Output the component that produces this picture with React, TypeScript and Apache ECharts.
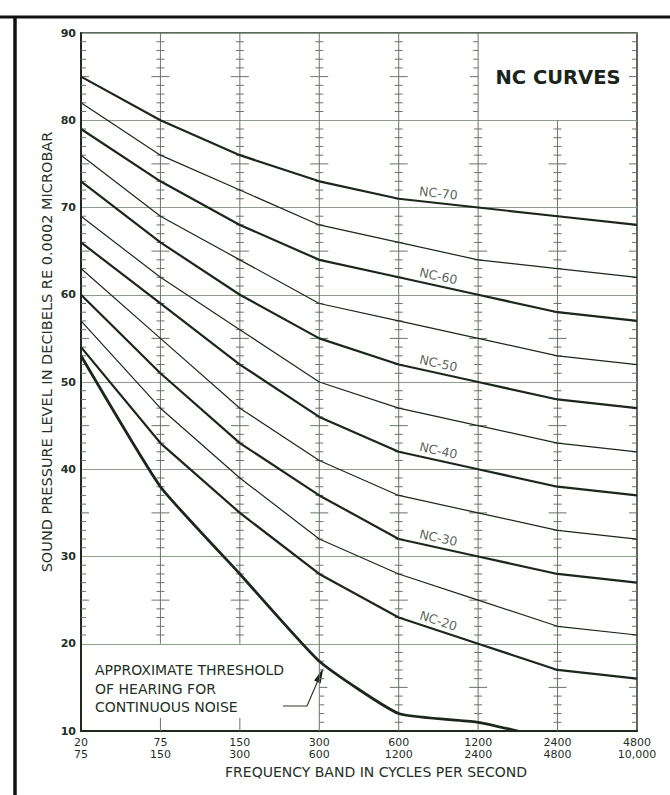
import React, { useEffect, useRef } from "react";
import * as echarts from "echarts";

// ---------- data ----------
const bandLabels = [
  "20\n75",
  "75\n150",
  "150\n300",
  "300\n600",
  "600\n1200",
  "1200\n2400",
  "2400\n4800",
  "4800\n10,000",
];

const nc70 = [85, 80, 76, 73, 71, 70, 69, 68];
const nc65 = [82, 76, 72, 68, 66, 64, 63, 62];
const nc60 = [79, 73, 68, 64, 62, 60, 58, 57];
const nc55 = [76, 69, 64, 59, 57, 55, 53, 52];
const nc50 = [73, 66, 60, 55, 52, 50, 48, 47];
const nc45 = [69, 62, 56, 50, 47, 45, 43, 42];
const nc40 = [66, 59, 52, 46, 42, 40, 38, 37];
const nc35 = [63, 55, 47, 41, 37, 35, 33, 32];
const nc30 = [60, 51, 43, 37, 32, 30, 28, 27];
const nc25 = [57, 47, 39, 32, 28, 25, 22, 21];
const nc20 = [54, 43, 35, 28, 23, 20, 17, 16];

// threshold of hearing: values per band, then the point where it meets 10 dB
const thresholdValues = [53, 38, 28, 18, 12, 11];
const thresholdEnd = [5.5, 10];

const curves = [
  { name: "NC-70", values: nc70 },
  { name: "NC-65", values: nc65 },
  { name: "NC-60", values: nc60 },
  { name: "NC-55", values: nc55 },
  { name: "NC-50", values: nc50 },
  { name: "NC-45", values: nc45 },
  { name: "NC-40", values: nc40 },
  { name: "NC-35", values: nc35 },
  { name: "NC-30", values: nc30 },
  { name: "NC-25", values: nc25 },
  { name: "NC-20", values: nc20 },
];

// ---------- styling ----------
const INK = "#1b271b";
const TEXT = "#243024";
const GRID_H = "#8e9c8c";
const GRID_V = "#667664";
const FONT = "'DejaVu Sans', 'Noto Sans', sans-serif";

const GRID = { left: 81, right: 33, top: 33, bottom: 64 };
const W = 670;
const H = 795;

const isBold = (name: string) => Number(name.split("-")[1]) % 10 === 0;

// decorative verticals with cross ticks
const columns = [
  { x: 0, lines: [] as number[][], ticks: [{ from: 21, to: 89, side: "right" }] },
  { x: 1, lines: [[20, 90], [10, 11.5]], ticks: [{ from: 21, to: 89, side: "both" }] },
  { x: 2, lines: [[20, 90], [10, 11.5]], ticks: [{ from: 21, to: 89, side: "both" }] },
  {
    x: 3,
    lines: [[10, 90]],
    ticks: [
      { from: 21, to: 89, side: "both" },
      { from: 11, to: 19, side: "right" },
    ],
  },
  { x: 4, lines: [[10, 90]], ticks: [{ from: 11, to: 89, side: "both" }] },
  {
    x: 5,
    lines: [[10, 90]],
    ticks: [
      { from: 11, to: 79, side: "both" },
      { from: 81, to: 89, side: "left" },
    ],
  },
  { x: 6, lines: [[10, 80]], ticks: [{ from: 11, to: 79, side: "both" }] },
  { x: 7, lines: [] as number[][], ticks: [{ from: 11, to: 89, side: "left" }] },
];

export default function App() {
  const ref = useRef<HTMLDivElement>(null);

  useEffect(() => {
    document.body.style.margin = "0";
    if (!ref.current) return;
    const chart = echarts.init(ref.current, undefined, { renderer: "svg" });

    const pxPerX = (W - GRID.left - GRID.right) / 7;
    const pxPerY = (H - GRID.top - GRID.bottom) / 80;

    const lineSeries: any[] = curves.map((c) => ({
      type: "line",
      name: c.name,
      data: c.values.map((v, i) => [i, v]),
      symbol: "none",
      silent: true,
      z: 3,
      lineStyle: { color: INK, width: isBold(c.name) ? 2.2 : 1.2 },
    }));

    lineSeries.push({
      type: "line",
      name: "threshold",
      data: [...thresholdValues.map((v, i) => [i, v]), thresholdEnd],
      symbol: "none",
      silent: true,
      smooth: 0.15,
      z: 4,
      lineStyle: { color: INK, width: 2.8 },
    });

    const labelData = curves
      .filter((c) => isBold(c.name))
      .map((c) => {
        const a = c.values[4];
        const b = c.values[5];
        const ang = (Math.atan(((a - b) * pxPerY) / pxPerX) * 180) / Math.PI;
        return {
          value: [4.5, (a + b) / 2 + 1.15],
          label: {
            show: true,
            formatter: c.name,
            position: "inside",
            rotate: -ang,
            fontSize: 12.5,
            fontFamily: FONT,
            color: "#2f3c2f",
          },
        };
      });

    const tickSeries = {
      type: "custom",
      silent: true,
      clip: false,
      z: 1,
      data: [[0, 10]],
      renderItem: (_params: any, api: any) => {
        const children: any[] = [];
        const add = (x1: number, y1: number, x2: number, y2: number, c: string, w = 1) =>
          children.push({ type: "line", shape: { x1, y1, x2, y2 }, style: { stroke: c, lineWidth: w } });
        columns.forEach((col) => {
          col.lines.forEach(([a, b]) => {
            const p1 = api.coord([col.x, a]);
            const p2 = api.coord([col.x, b]);
            add(p1[0], p1[1], p2[0], p2[1], GRID_V, 1);
          });
          col.ticks.forEach((t) => {
            for (let v = t.from; v <= t.to; v++) {
              if (v % 10 === 0) continue;
              const [cx, cy] = api.coord([col.x, v]);
              const major = v % 5 === 0;
              const len = t.side === "both" ? (major ? 9 : 4) : major ? 8 : 5;
              const l = t.side === "right" ? 0 : len;
              const r = t.side === "left" ? 0 : len;
              add(cx - l, cy, cx + r, cy, GRID_V, 1);
            }
          });
        });
        return { type: "group", children };
      },
    };

    chart.setOption({
      animation: false,
      backgroundColor: "#ffffff",
      grid: {
        ...GRID,
        show: true,
        borderColor: "#2b372b",
        borderWidth: 1.5,
        containLabel: false,
      },
      xAxis: {
        type: "value",
        min: 0,
        max: 7,
        interval: 1,
        axisLine: { show: true, lineStyle: { color: "#1e2a1e", width: 2 } },
        axisTick: { show: false },
        splitLine: { show: false },
        axisLabel: {
          formatter: (v: number) => bandLabels[v] ?? "",
          fontSize: 11,
          lineHeight: 12,
          margin: 5,
          color: TEXT,
          fontFamily: FONT,
          showMinLabel: true,
          showMaxLabel: true,
        },
      },
      yAxis: {
        type: "value",
        min: 10,
        max: 90,
        interval: 10,
        axisLine: { show: true, lineStyle: { color: "#1e2a1e", width: 2 } },
        axisTick: { show: false },
        splitLine: { show: true, lineStyle: { color: GRID_H, width: 1 } },
        axisLabel: {
          fontSize: 11,
          fontWeight: "bold",
          margin: 5,
          color: TEXT,
          fontFamily: FONT,
        },
      },
      series: [
        tickSeries,
        ...lineSeries,
        {
          type: "scatter",
          symbolSize: 1,
          silent: true,
          z: 5,
          itemStyle: { color: "rgba(0,0,0,0)" },
          data: labelData,
        },
      ],
    });

    // annotation arrow pointing to the threshold curve at the 300-600 band
    const [tx, ty] = chart.convertToPixel({ gridIndex: 0 }, [3, thresholdValues[3]]) as number[];
    const tip = [tx + 4, ty + 7];
    const start = [283, 706];
    const knee = [307, 706];
    const dx = tip[0] - knee[0];
    const dy = tip[1] - knee[1];
    const dl = Math.sqrt(dx * dx + dy * dy);
    const ux = dx / dl;
    const uy = dy / dl;
    const hl = 15;
    const hw = 3.6;
    const bx = tip[0] - ux * hl;
    const by = tip[1] - uy * hl;

    chart.setOption({
      graphic: [
        {
          type: "line",
          shape: { x1: 0, y1: 17, x2: W, y2: 17 },
          style: { stroke: "#111", lineWidth: 3 },
        },
        {
          type: "line",
          shape: { x1: 15, y1: 16, x2: 15, y2: H },
          style: { stroke: "#111", lineWidth: 3.5 },
        },
        {
          type: "text",
          x: 558,
          y: 77,
          style: {
            text: "NC CURVES",
            fontSize: 19.5,
            fontWeight: "bold",
            fontFamily: FONT,
            fill: "#1a241a",
            align: "center",
            verticalAlign: "middle",
          },
        },
        {
          type: "text",
          x: 95,
          y: 661,
          style: {
            text: "APPROXIMATE THRESHOLD\nOF HEARING FOR\nCONTINUOUS NOISE",
            fontSize: 14,
            lineHeight: 18.5,
            fontFamily: FONT,
            fill: TEXT,
            align: "left",
            verticalAlign: "top",
          },
        },
        {
          type: "polyline",
          shape: { points: [start, knee, [bx, by]] },
          style: { stroke: "#2b372b", lineWidth: 1.2, fill: "none" },
        },
        {
          type: "polygon",
          shape: {
            points: [
              tip,
              [bx + uy * hw, by - ux * hw],
              [bx - uy * hw, by + ux * hw],
            ],
          },
          style: { fill: "#1a241a" },
        },
        {
          type: "text",
          x: 376,
          y: 772,
          style: {
            text: "FREQUENCY BAND IN CYCLES PER SECOND",
            fontSize: 14,
            fontFamily: FONT,
            fill: TEXT,
            align: "center",
            verticalAlign: "middle",
          },
        },
        {
          type: "text",
          x: 47,
          y: 352,
          rotation: Math.PI / 2,
          style: {
            text: "SOUND PRESSURE LEVEL IN DECIBELS RE 0.0002 MICROBAR",
            fontSize: 14.5,
            fontFamily: FONT,
            fill: TEXT,
            align: "center",
            verticalAlign: "middle",
          },
        },
      ],
    });

    return () => chart.dispose();
  }, []);

  return <div ref={ref} style={{ width: W, height: H }} />;
}
